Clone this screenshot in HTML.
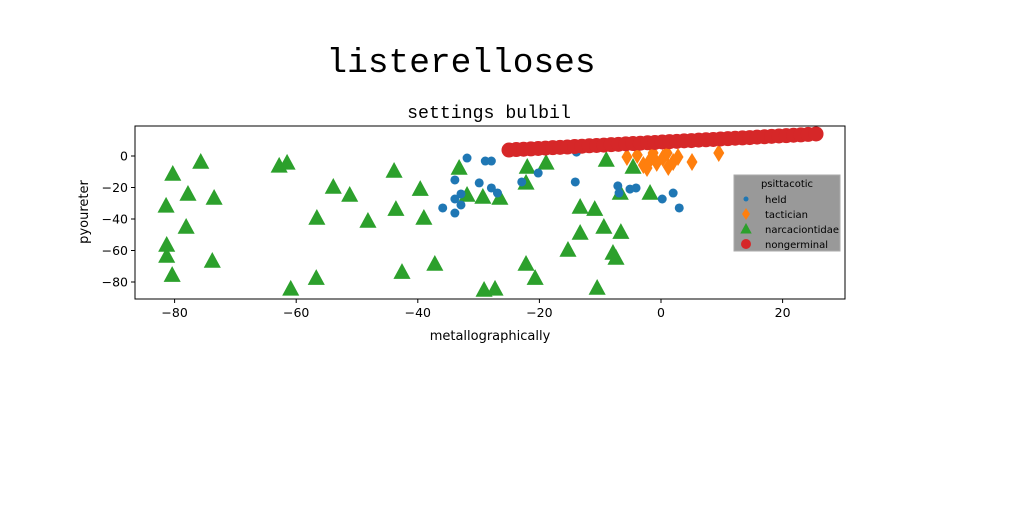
<!DOCTYPE html>
<html><head><meta charset="utf-8"><style>
body{margin:0;background:#fff;width:1024px;height:512px;overflow:hidden}
svg{display:block}
</style></head><body>
<svg id="chart" width="1024" height="512" viewBox="0 0 1024 512" xmlns="http://www.w3.org/2000/svg" font-family="'DejaVu Sans','Liberation Sans',sans-serif">
<rect width="1024" height="512" fill="#fff"/>
<text x="461" y="72" text-anchor="middle" font-family="'Liberation Mono',monospace" font-size="34.5" fill="#000">listerelloses</text>
<text x="489" y="118" text-anchor="middle" font-family="'Liberation Mono',monospace" font-size="18.2" fill="#000">settings bulbil</text>
<g id="plot"></g>
</svg>
<script>
const xTicks=[-80,-60,-40,-20,0,20];
const yTicks=[0,-20,-40,-60,-80];
const heldX=[-31.9,-28.9,-27.9,-33.9,-29.9,-27.9,-26.9,-32.9,-33.9,-32.9,-35.9,-33.9,-22.9,-20.2,-14.1,-7.1,-5.1,-4.1,-6.9,0.2,2.0,3.0,-13.9];
const heldY=[-1.3,-3.2,-3.2,-15.2,-17.1,-20.3,-23.5,-24.1,-27.3,-31.1,-33.0,-36.2,-16.5,-10.8,-16.5,-19.0,-21.0,-20.3,-23.5,-27.3,-23.5,-33.0,2.5];
const tactX=[-5.6,-2.9,-1.8,-0.7,0.3,1.2,2.0,2.8,5.1,9.5,-1.3,-3.9,-2.3,1.0];
const tactY=[-0.6,-5.7,-2.5,-4.4,-1.3,-7.0,-3.8,-0.6,-3.8,1.9,1.9,0.6,-7.6,1.9];
const narcX=[-80.3,-75.7,-77.8,-81.4,-73.5,-78.1,-81.3,-81.3,-80.4,-73.8,-62.8,-61.5,-53.9,-51.2,-56.6,-56.7,-60.9,-43.9,-48.2,-43.6,-42.6,-39.6,-39.0,-37.2,-33.2,-31.9,-29.3,-26.5,-29.1,-27.3,-22.2,-22.0,-18.9,-9.0,-4.6,-6.7,-1.8,-13.3,-10.9,-13.3,-9.4,-6.6,-15.3,-7.9,-7.4,-22.2,-20.7,-10.5];
const narcY=[-11.4,-3.8,-24.1,-31.7,-26.7,-45.1,-56.5,-63.5,-75.6,-66.7,-6.3,-4.4,-19.7,-24.8,-39.4,-77.5,-84.4,-9.5,-41.3,-33.7,-73.7,-21.0,-39.4,-68.6,-7.6,-24.8,-26.0,-26.7,-85.1,-84.4,-17.1,-7.0,-4.4,-2.5,-7.0,-23.5,-23.5,-32.4,-33.7,-48.9,-45.1,-48.3,-59.7,-61.6,-64.8,-68.6,-77.5,-83.8];
const nonX=[-25,-23.8,-22.6,-21.4,-20.2,-19,-17.8,-16.6,-15.4,-14.2,-13,-11.8,-10.6,-9.4,-8.2,-7,-5.8,-4.6,-3.4,-2.2,-1,0.2,1.4,2.6,3.8,5,6.2,7.4,8.6,9.8,11,12.2,13.4,14.6,15.8,17,18.2,19.4,20.6,21.8,23,24.2,25.5];
const nonY=[3.8,4.1,4.3,4.5,4.8,5.0,5.3,5.5,5.7,6.0,6.2,6.5,6.7,6.9,7.2,7.4,7.7,7.9,8.1,8.4,8.6,8.9,9.1,9.3,9.6,9.8,10.1,10.3,10.5,10.8,11.0,11.3,11.5,11.7,12.0,12.2,12.5,12.7,12.9,13.2,13.4,13.7,14.0];

const NS='http://www.w3.org/2000/svg';
const L=135,R=845,T=126,B=299;
const sx=v=>661+v*6.08;
const sy=v=>156-v*1.575;
const g=document.getElementById('plot');
function mk(tag,attrs){const e=document.createElementNS(NS,tag);for(const k in attrs)e.setAttribute(k,attrs[k]);return e;}

const frame=mk('rect',{x:L,y:T,width:R-L,height:B-T,fill:'#fff',stroke:'#000','stroke-width':1});


g.appendChild(frame);

xTicks.forEach(t=>{
  const x=sx(t);
  const ln=mk('line',{x1:x,x2:x,y1:B,y2:B+4,stroke:'#000'});
  
  
  g.appendChild(ln);
  const tx=mk('text',{x:x,y:B+18,'text-anchor':'middle','font-size':12.5});
  tx.textContent=(t<0?'\u2212'+(-t):t);
  
  
  g.appendChild(tx);
});
yTicks.forEach(t=>{
  const y=sy(t);
  const ln=mk('line',{x1:L-4,x2:L,y1:y,y2:y,stroke:'#000'});
  
  
  g.appendChild(ln);
  const tx=mk('text',{x:L-7,y:y+4.5,'text-anchor':'end','font-size':12.5});
  tx.textContent=(t<0?'\u2212'+(-t):t);
  
  
  g.appendChild(tx);
});
const xl=mk('text',{x:490,y:340,'text-anchor':'middle','font-size':13});
xl.textContent='metallographically';


g.appendChild(xl);
const yl=mk('text',{x:0,y:0,'text-anchor':'middle','font-size':13,transform:'translate(88,212) rotate(-90)'});
yl.textContent='pyoureter';


g.appendChild(yl);

function tri(cx,cy,s){return `${cx},${cy-s} ${cx+s*0.95},${cy+s*0.75} ${cx-s*0.95},${cy+s*0.75}`;}
function dia(cx,cy){return `${cx},${cy-9} ${cx+5.5},${cy} ${cx},${cy+9} ${cx-5.5},${cy}`;}

narcX.forEach((v,i)=>{
  const p=mk('polygon',{points:tri(sx(v),sy(narcY[i]),9),fill:'#2ca02c'});
  
  
  g.appendChild(p);
});
heldX.forEach((v,i)=>{
  const c=mk('circle',{cx:sx(v),cy:sy(heldY[i]),r:4.5,fill:'#1f77b4'});
  
  
  g.appendChild(c);
});
tactX.forEach((v,i)=>{
  const p=mk('polygon',{points:dia(sx(v),sy(tactY[i])),fill:'#ff7f0e'});
  
  
  g.appendChild(p);
});
nonX.forEach((v,i)=>{
  const c=mk('circle',{cx:sx(v),cy:sy(nonY[i]),r:7.5,fill:'#d62728'});
  
  
  g.appendChild(c);
});

const lg=mk('g',{});


g.appendChild(lg);
const lb=mk('rect',{x:734,y:175,width:106,height:76,fill:'#999',stroke:'#aaa'});


lg.appendChild(lb);
const lt=mk('text',{x:787,y:187,'text-anchor':'middle','font-size':10});
lt.textContent='psittacotic';


lg.appendChild(lt);
const names=['held','tactician','narcaciontidae','nongerminal'];
names.forEach((n,i)=>{
  const y=199+i*15;
  let m;
  if(i===0)m=mk('circle',{cx:746,cy:y,r:2.5,fill:'#1f77b4'});
  if(i===1)m=mk('polygon',{points:`746,${y-6} 750,${y} 746,${y+6} 742,${y}`,fill:'#ff7f0e'});
  if(i===2)m=mk('polygon',{points:tri(746,y,6),fill:'#2ca02c'});
  if(i===3)m=mk('circle',{cx:746,cy:y,r:5,fill:'#d62728'});
  
  
  lg.appendChild(m);
  const t=mk('text',{x:765,y:y+4,'font-size':10});
  t.textContent=n;
  
  
  lg.appendChild(t);
});
</script>
</body></html>
